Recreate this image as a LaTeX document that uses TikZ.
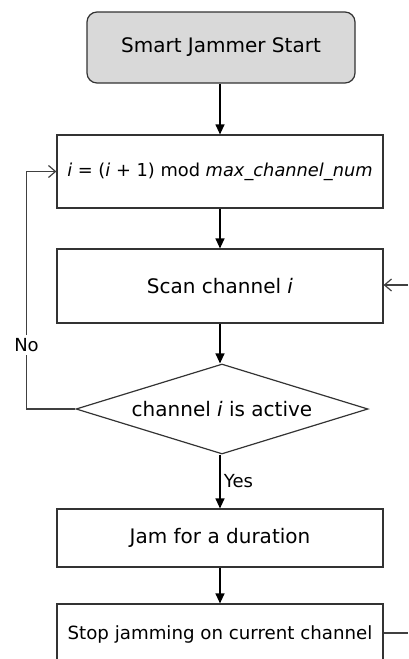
\documentclass[tikz,border=0pt]{standalone}
\usepackage{fontspec}
\setmainfont{DejaVu Sans}
\usetikzlibrary{shapes.geometric,arrows.meta}
\begin{document}
\begin{tikzpicture}[x=1pt,y=-1pt,
  every node/.style={font=\fontsize{20}{24}\selectfont, text=black},
  procbox/.style={draw=black!80, line width=1.2pt, minimum width=326pt, inner sep=0pt},
  startbox/.style={draw=black!80, line width=1.2pt, rounded corners=10pt, fill=gray!30, minimum width=268pt, minimum height=71pt, inner sep=0pt},
  decision/.style={draw=black!80, line width=1.2pt, diamond, aspect=3.24, minimum width=292pt, minimum height=90pt, inner sep=0pt},
  flow/.style={draw=black, line width=1.2pt, -{Triangle[length=10pt,width=9pt]}},
  loop/.style={draw=black!75, line width=1.2pt, -{Straight Barb[length=7pt,width=12pt]}},
  lbl/.style={font=\fontsize{18}{22}\selectfont}]
\useasboundingbox (0,0) rectangle (408,659);
\clip (0,0) rectangle (408,659);
\node[startbox] (start) at (221,47.5) {Smart Jammer Start};
\node[procbox, minimum height=73pt] (upd) at (220,171.5) {\fontsize{17.8}{21}\selectfont$\mathit{i}$ = ($\mathit{i}$ + 1) mod \textit{max\_channel\_num}};
\node[procbox, minimum height=74pt] (scan) at (220,286) {Scan channel \textit{i}};
\node[decision] (dec) at (222,409) {channel \textit{i} is active};
\node[procbox, minimum height=58pt] (jam) at (220,538) {Jam for a duration};
\node[procbox, minimum height=60pt] (stop) at (220,634) {\fontsize{18.2}{22}\selectfont Stop jamming on current channel};
\draw[flow] (start.south -| 220,0) -- (upd.north);
\draw[flow] (upd) -- (scan);
\draw[flow] (scan.south -| 220,0) -- (dec.north -| 220,0);
\draw[flow] (dec.south -| 220,0) -- node[lbl, right, xshift=0pt] (yes) {Yes} (jam.north);
\draw[flow] (jam) -- (stop);
\coordinate (lc) at (26.5,409);
\coordinate (lt) at (26.5,171.5);
\node[lbl] (no) at (26.5,345) {No};
\draw[draw=black!75, line width=1.2pt] (dec.west) -- (lc) -- (no.south);
\draw[loop] (no.north) -- (lt) -- (upd.west);
\coordinate (rin) at (408,285);
\coordinate (rout) at (408,633);
\draw[loop] (rin) -- (scan.east |- rin);
\draw[draw=black!75, line width=1.2pt] (stop.east |- rout) -- (rout);
\end{tikzpicture}
\end{document}
